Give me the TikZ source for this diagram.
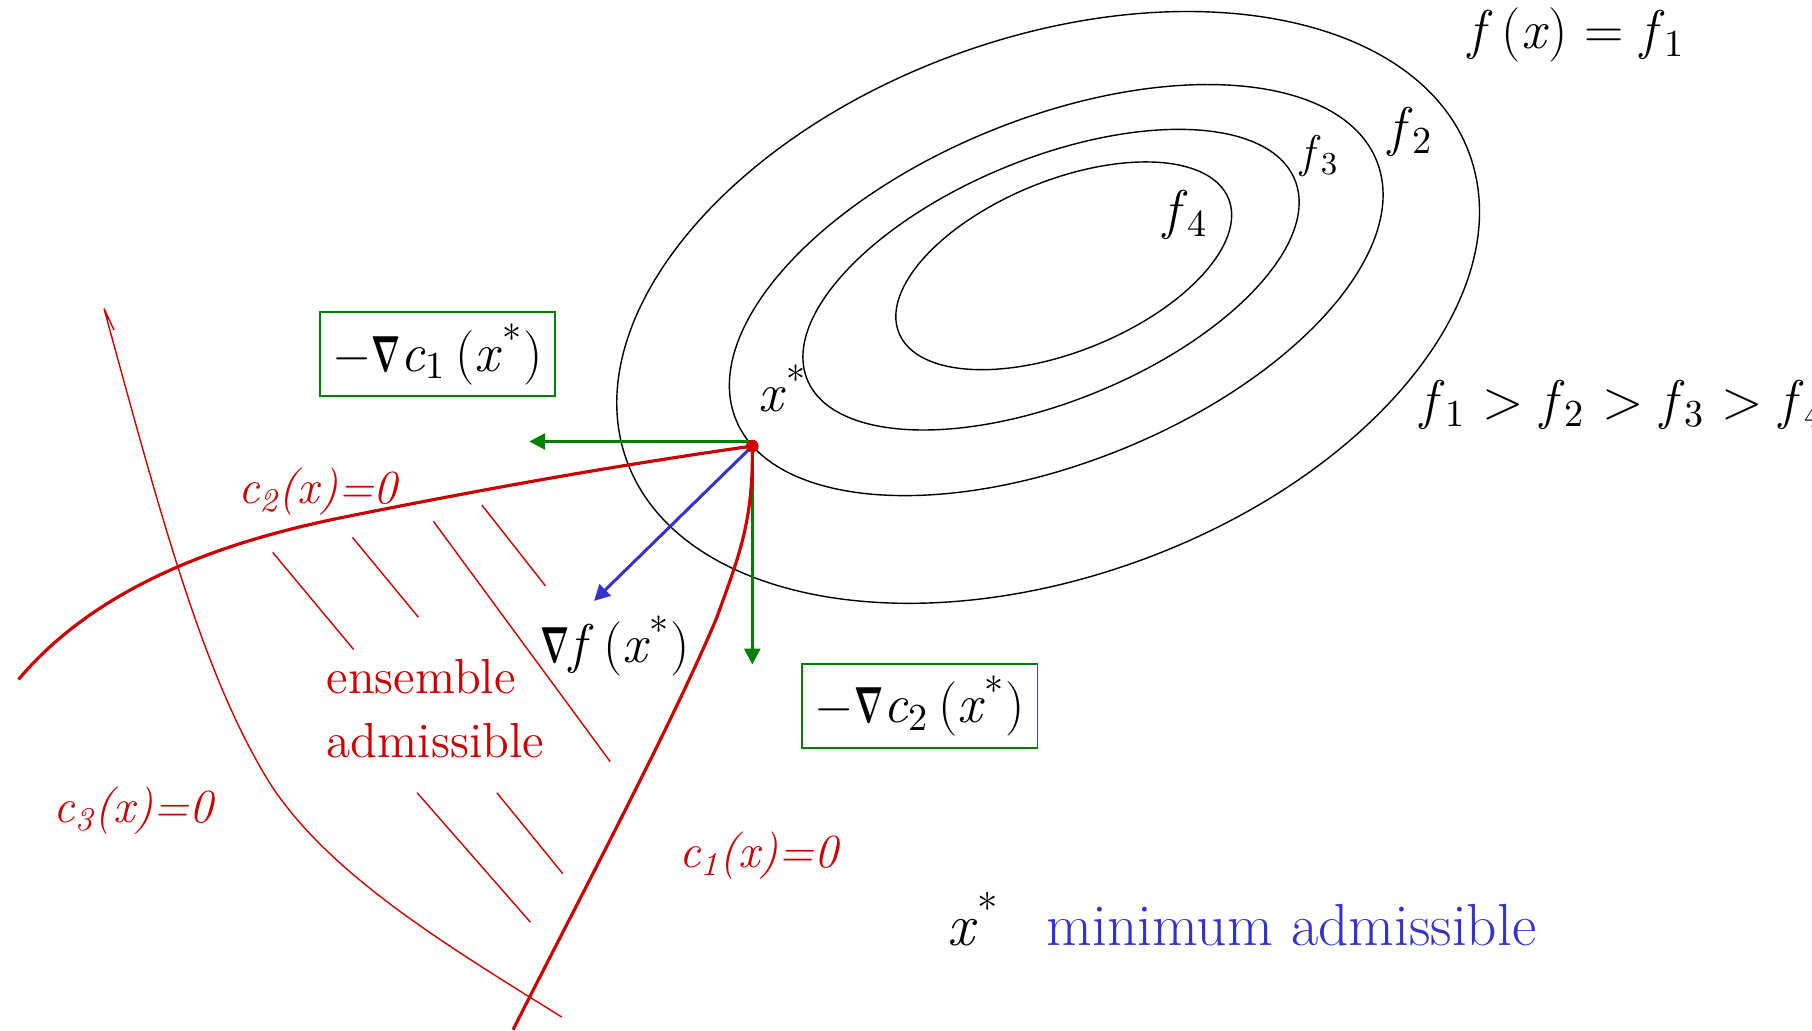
\documentclass[tikz,border=0pt]{standalone}
\usepackage{fontspec}
\usepackage{graphicx}
\usetikzlibrary{arrows.meta,positioning}
\definecolor{Crimson}{HTML}{CC0000}
\definecolor{Leaf}{HTML}{008000}
\definecolor{Indigo}{HTML}{3333CC}
\newcommand{\xst}{\textit{x}\textsuperscript{*}}
\newcommand{\nab}{\scalebox{0.6}[1]{\boldmath$\nabla$}}

\begin{document}
\begin{tikzpicture}[x=0.011556cm,y=-0.011556cm,
level/.style={draw=black,line width=0.4pt},
cbound/.style={draw=Crimson,line width=0.9pt},
cthin/.style={draw=Crimson,line width=0.4pt},
grad/.style={-{Triangle[length=4.5pt,width=4.5pt]},line width=0.85pt},
vbox/.style={draw=Leaf,line width=0.5pt,minimum width=2.35cm,minimum height=0.84cm,inner sep=2pt,font=\fontsize{15.5}{18}\selectfont},
mlabel/.style={inner sep=0pt,font=\fontsize{15.5}{18}\selectfont},
clabel/.style={inner sep=0pt,text=Crimson,font=\fontsize{13.5}{16}\selectfont\itshape},
ens/.style={inner sep=0pt,text=Crimson,font=\fontsize{14}{17}\selectfont}]
\useasboundingbox[fill=white] (0,0) rectangle (1568,892);
\draw[level,rotate around={20:(907,266)}] (907,266) ellipse [x radius=388,y radius=233];
\draw[level,rotate around={22:(914,251)}] (914,251) ellipse [x radius=299,y radius=149];
\draw[level,rotate around={22.3:(909.5,242)}] (909.5,242) ellipse [x radius=228,y radius=105];
\draw[level,rotate around={22.2:(920.5,230)}] (920.5,230) ellipse [x radius=154,y radius=74];
\coordinate (xs) at (651,386);
\coordinate (g1) at (458,382);
\coordinate (g2) at (651,575);
\coordinate (gf) at (514,520);
\draw[grad,Leaf] (g1-|xs) -- (g1);
\draw[grad,Leaf] (xs) -- (g2);
\draw[grad,Indigo] (xs) -- (gf);
\draw[cbound] (16,588) .. controls (90,500) and (210,465) .. (300,447) .. controls (420,423) and (531,403) .. (xs);
\draw[cbound] (xs) .. controls (652,450) and (640,480) .. (620,535) .. controls (580,630) and (500,780) .. (444,891);
\draw[cthin] (98.7,285.6) -- (90,267) .. controls (140,450) and (175,580) .. (230,672) .. controls (280,755) and (390,820) .. (486,880);
\foreach \xa/\ya/\xb/\yb in {236/478/306/562,305/465/362/534,375/451/528/659,417/437/472/507,361/686/459/798,430/686/487/756}
  \draw[cthin] (\xa,\ya) -- (\xb,\yb);
\fill[Crimson] (xs) circle[radius=5.5];
\node[mlabel,anchor=base west] (lf1) at (1270,42) {\textit{f}\,(\textit{x}) = \textit{f}\textsubscript{1}};
\node[mlabel] (lf2) at (1221,114) {\textit{f}\textsubscript{2}};
\node[mlabel,font=\fontsize{13}{16}\selectfont] (lf3) at (1142,135) {\textit{f}\textsubscript{3}};
\node[mlabel] (lf4) at (1026,186) {\textit{f}\textsubscript{4}};
\node[mlabel,anchor=west] (order) at (1229,350.5) {\textit{f}\textsubscript{1} > \textit{f}\textsubscript{2} > \textit{f}\textsubscript{3} > \textit{f}\textsubscript{4}};
\node[mlabel] (lxs) at (677.6,336) {\xst};
\node[mlabel] (lgf) at (532.5,559) {\nab\textit{f}\,(\xst)};
\node[vbox] (nc1) at (378.5,306.6) {$-$\nab\textit{c}\textsubscript{1}\,(\xst)};
\node[vbox] (nc2) at (796,611) {$-$\nab\textit{c}\textsubscript{2}\,(\xst)};
\node[clabel,anchor=base west] (lc2) at (205.5,436) {c\textsubscript{2}(x)=0};
\node[clabel,anchor=base west] (lc3) at (46,712) {c\textsubscript{3}(x)=0};
\node[clabel,anchor=base west] (lc1) at (587,751) {c\textsubscript{1}(x)=0};
\node[ens,anchor=base west] (ensl) at (282,600) {ensemble};
\node[ens,below=18.2pt of ensl.base west,anchor=base west] (adml) {admissible};
\node[mlabel,text=Indigo,anchor=base west,font=\fontsize{16.9}{20}\selectfont] (madm) at (905,818) {minimum admissible};
\node[mlabel,left=13pt of madm.base west,anchor=base east,font=\fontsize{16.9}{20}\selectfont] (xmin) {\xst};
\end{tikzpicture}
\end{document}
